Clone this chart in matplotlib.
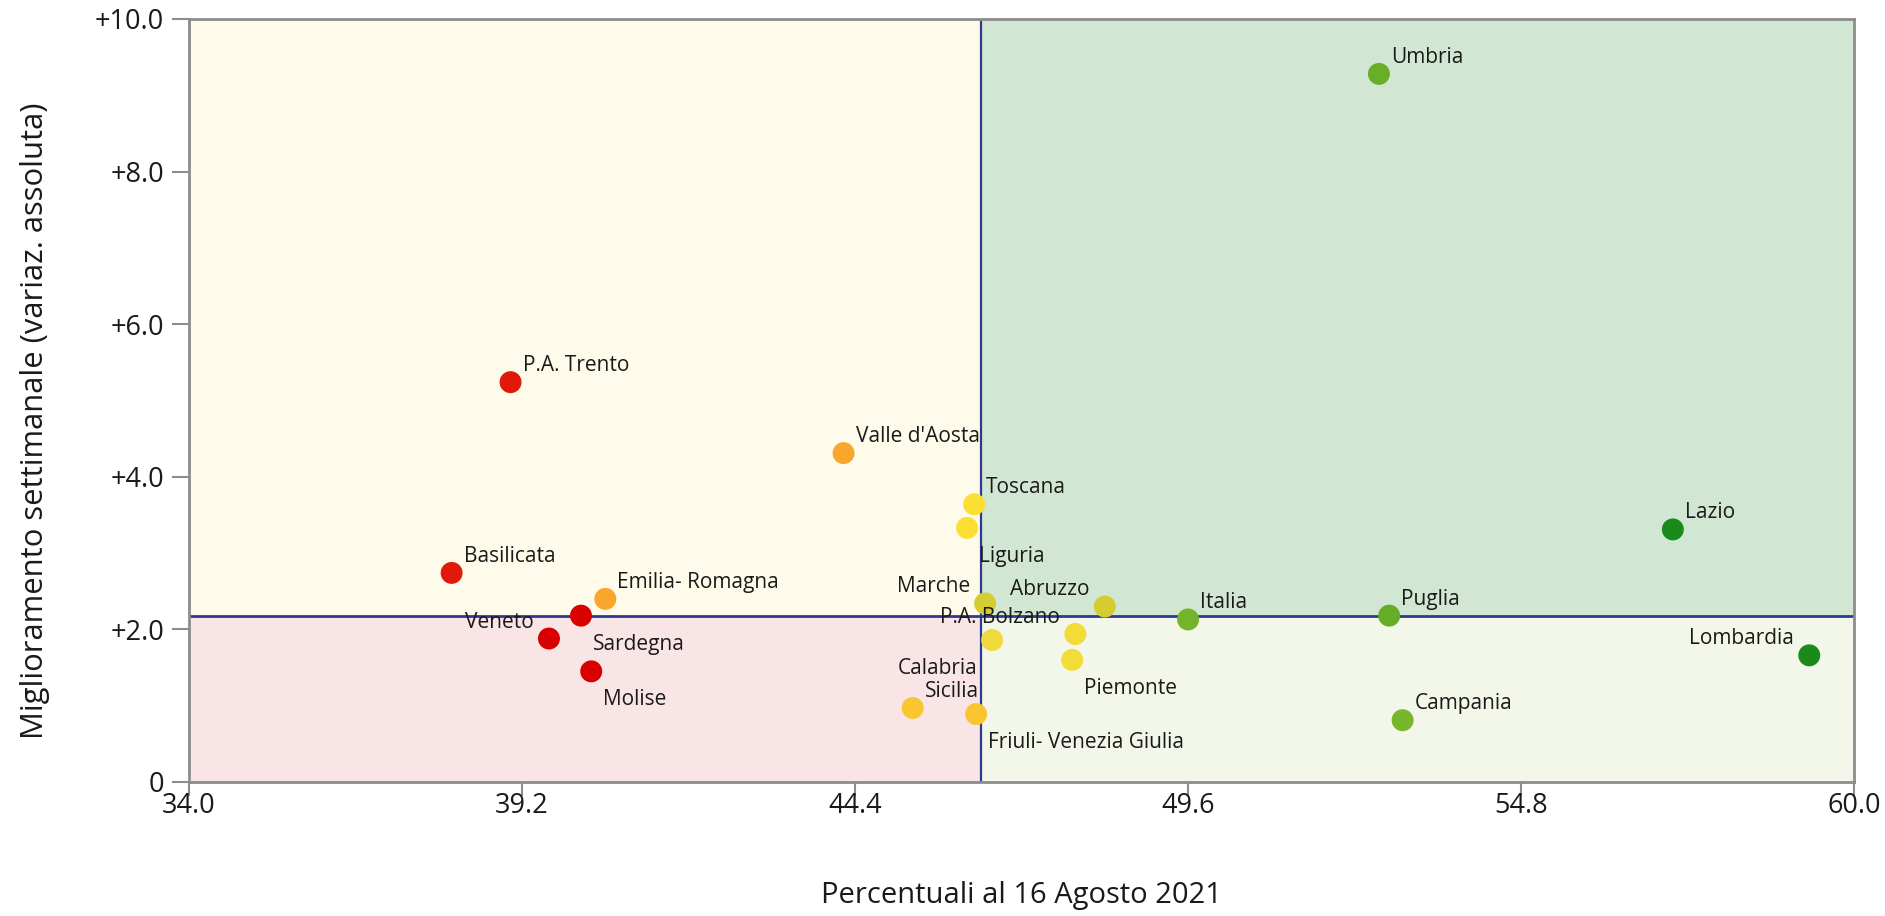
import matplotlib.pyplot as plt
from matplotlib.ticker import FixedLocator, FuncFormatter

plt.rcParams["font.family"] = ["Open Sans", "DejaVu Sans"]

regions = ["Umbria", "P.A. Trento", "Valle d'Aosta", "Toscana", "Liguria",
           "Lazio", "Basilicata", "Emilia- Romagna", "Marche", "Abruzzo",
           "Italia", "Puglia", "Veneto", "Sardegna", "Molise", "P.A. Bolzano",
           "Calabria", "Piemonte", "Sicilia", "Friuli- Venezia Giulia",
           "Campania", "Lombardia"]
percent = [52.58, 39.02, 44.22, 46.26, 46.15,
           57.17, 38.10, 40.50, 46.43, 48.30,
           49.60, 52.74, 39.62, 40.12, 40.28, 47.84,
           46.54, 47.79, 45.30, 46.29,
           52.95, 59.30]
weekly_gain = [9.28, 5.24, 4.31, 3.64, 3.33,
               3.31, 2.74, 2.40, 2.34, 2.30,
               2.13, 2.18, 1.88, 2.18, 1.45, 1.94,
               1.86, 1.60, 0.97, 0.89,
               0.81, 1.66]
point_colors = ["#68ae26", "#e0190b", "#f9a62c", "#fbe033", "#fbe033",
                "#1a8a1a", "#e0190b", "#f9a62c", "#d4cc30", "#d4cc30",
                "#74b42a", "#66ac27", "#d80000", "#d80000", "#d80000", "#f2dc38",
                "#f0d93a", "#f2dc38", "#f9c531", "#f9c531",
                "#78b72b", "#1a8a1a"]
# label placement around each point: upper/lower, left/right
label_pos = ["ur", "ur", "ur", "ur", "lr",
             "ur", "ur", "ur", "ul", "ul",
             "ur", "ur", "ul", "lr", "lr", "ul",
             "ll", "lr", "ur", "lr",
             "ur", "ul"]

x_split = 46.36
y_split = 2.18
x_ticks = [34.0, 39.2, 44.4, 49.6, 54.8, 60.0]
y_ticks = [0, 2, 4, 6, 8, 10]

offsets = {"ur": (12, 11, "left"), "ul": (-15, 11, "right"),
           "lr": (12, -34, "left"), "ll": (-15, -34, "right")}

fig = plt.figure(figsize=(18.85, 9.16), dpi=100)
ax = fig.add_axes([0.1003, 0.1463, 0.8833, 0.833])
ax.set_xlim(34, 60)
ax.set_ylim(0, 10)

# quadrant backgrounds
ax.axvspan(34, x_split, ymin=y_split / 10, ymax=1, color="#fffbeb", lw=0, zorder=0)
ax.axvspan(x_split, 60, ymin=y_split / 10, ymax=1, color="#d2e7d3", lw=0, zorder=0)
ax.axvspan(34, x_split, ymin=0, ymax=y_split / 10, color="#f9e5e6", lw=0, zorder=0)
ax.axvspan(x_split, 60, ymin=0, ymax=y_split / 10, color="#f2f7ea", lw=0, zorder=0)

ax.axhline(y_split, color="#2e3a8f", lw=2, zorder=1)
ax.axvline(x_split, color="#2e3a8f", lw=1.6, zorder=1)

ax.scatter(percent, weekly_gain, s=250, c=point_colors, linewidths=0, zorder=3)

for name, x, y, pos in zip(regions, percent, weekly_gain, label_pos):
    dx, dy, ha = offsets[pos]
    ax.annotate(name, (x, y), xytext=(dx, dy), textcoords="offset pixels",
                ha=ha, va="baseline", fontsize=15, color="#1a1a1a", zorder=4)

for side in ["left", "right", "top", "bottom"]:
    ax.spines[side].set_color("#8c8c8c")
    ax.spines[side].set_linewidth(2)

ax.xaxis.set_major_locator(FixedLocator(x_ticks))
ax.yaxis.set_major_locator(FixedLocator(y_ticks))
ax.xaxis.set_major_formatter(FuncFormatter(lambda v, p: f"{v:.1f}"))
ax.yaxis.set_major_formatter(FuncFormatter(lambda v, p: "0" if v == 0 else f"+{v:.1f}"))
ax.tick_params(axis="both", direction="out", color="#8c8c8c", width=1.5,
               labelsize=19.5, labelcolor="#1a1a1a")
ax.tick_params(axis="x", length=10, pad=-3)
ax.tick_params(axis="y", length=12, pad=6)

ax.set_xlabel("Percentuali al 16 Agosto 2021", fontsize=21, color="#1a1a1a", labelpad=44)
ax.set_ylabel("Miglioramento settimanale (variaz. assoluta)", fontsize=22.3,
              color="#1a1a1a", labelpad=32)
ax.yaxis.label.set_y(0.474)

fig.savefig("out.png", dpi=100)
